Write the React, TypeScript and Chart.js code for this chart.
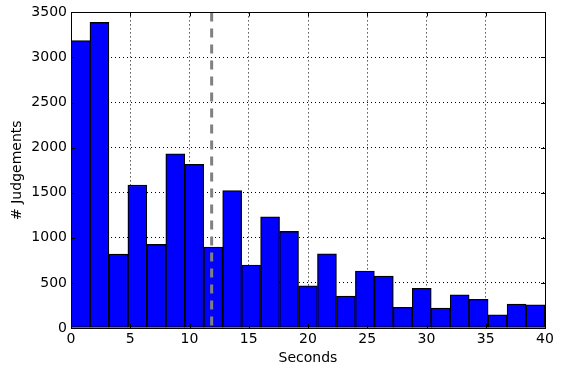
import React, { useEffect, useRef } from "react";
import { Chart, registerables } from "chart.js";

Chart.register(...registerables);

const binStarts = [0, 1.6, 3.2, 4.8, 6.4, 8, 9.6, 11.2, 12.8, 14.4, 16, 17.6, 19.2, 20.8, 22.4, 24, 25.6, 27.2, 28.8, 30.4, 32, 33.6, 35.2, 36.8, 38.4];
const binWidth = 1.6;
const counts = [3187, 3389, 820, 1584, 927, 1931, 1816, 897, 1525, 698, 1233, 1071, 469, 823, 354, 631, 576, 229, 440, 222, 369, 318, 147, 266, 258];
const meanSeconds = 11.87;
const xTitle = "Seconds";
const yTitle = "# Judgements";

const FONT = "'DejaVu Sans', sans-serif";

const framePlugin = {
  id: "frame",
  afterDraw(chart: any) {
    const { ctx, chartArea } = chart;
    const { left, right, top, bottom } = chartArea;
    ctx.save();
    ctx.strokeStyle = "#000";
    ctx.lineWidth = 1;
    ctx.setLineDash([]);
    ctx.beginPath();
    const xs = chart.scales.x;
    const ys = chart.scales.y;
    const L = 4;
    xs.ticks.forEach((t: any) => {
      const px = Math.round(xs.getPixelForValue(t.value)) + 0.5;
      ctx.moveTo(px, bottom);
      ctx.lineTo(px, bottom - L);
      ctx.moveTo(px, top);
      ctx.lineTo(px, top + L);
    });
    ys.ticks.forEach((t: any) => {
      const py = Math.round(ys.getPixelForValue(t.value)) + 0.5;
      ctx.moveTo(left, py);
      ctx.lineTo(left + L, py);
      ctx.moveTo(right, py);
      ctx.lineTo(right - L, py);
    });
    ctx.stroke();
    ctx.strokeRect(Math.round(left) + 0.5, Math.round(top) + 0.5, Math.round(right - left), Math.round(bottom - top));
    ctx.restore();
  },
};

export default function App() {
  const ref = useRef<HTMLCanvasElement>(null);
  useEffect(() => {
    document.body.style.margin = "0";
    const barData = binStarts.map((s, i) => ({ x: s + binWidth / 2, y: counts[i] }));
    const chart = new Chart(ref.current as HTMLCanvasElement, {
      type: "bar",
      data: {
        datasets: [
          {
            type: "line",
            data: [
              { x: meanSeconds, y: 3500 },
              { x: meanSeconds, y: 0 },
            ],
            borderColor: "#808080",
            borderWidth: 3,
            borderDash: [9, 7],
            pointRadius: 0,
            order: 0,
          } as any,
          {
            type: "bar",
            data: barData,
            backgroundColor: "#0000ff",
            borderColor: "#000000",
            borderWidth: 1.3,
            borderSkipped: false,
            barPercentage: 1,
            categoryPercentage: 1,
            order: 1,
          } as any,
        ],
      },
      options: {
        animation: false,
        responsive: false,
        maintainAspectRatio: false,
        layout: { padding: { left: 0, right: 17, top: 12, bottom: 0 } },
        plugins: { legend: { display: false }, tooltip: { enabled: false } },
        scales: {
          x: {
            type: "linear",
            min: 0,
            max: 40,
            offset: false,
            z: 1,
            ticks: { stepSize: 5, color: "#000", font: { family: FONT, size: 14 }, padding: 3, callback: (v: any) => String(v) },
            grid: { color: "#000", lineWidth: 1, tickLength: 0, drawTicks: false, offset: false },
            border: { display: false, dash: [1, 3] },
            title: { display: true, text: xTitle, color: "#000", font: { family: FONT, size: 14 }, padding: { top: 0, bottom: 3 } },
            afterFit: (s: any) => { s.height = 42; },
          },
          y: {
            min: 0,
            max: 3500,
            z: 1,
            ticks: { stepSize: 500, color: "#000", font: { family: FONT, size: 14 }, padding: 4, callback: (v: any) => String(v) },
            grid: { color: "#000", lineWidth: 1, tickLength: 0, drawTicks: false },
            border: { display: false, dash: [1, 3] },
            title: { display: true, text: yTitle, color: "#000", font: { family: FONT, size: 14 }, padding: { top: 9, bottom: 0 } },
            afterFit: (s: any) => { s.width = 71; },
          },
        },
      },
      plugins: [framePlugin],
    });
    return () => chart.destroy();
  }, []);
  return (
    <div style={{ position: "fixed", left: 0, top: 0, width: 562, height: 370, background: "#fff" }}>
      <canvas ref={ref} width={562} height={370} style={{ width: 562, height: 370 }} />
    </div>
  );
}
